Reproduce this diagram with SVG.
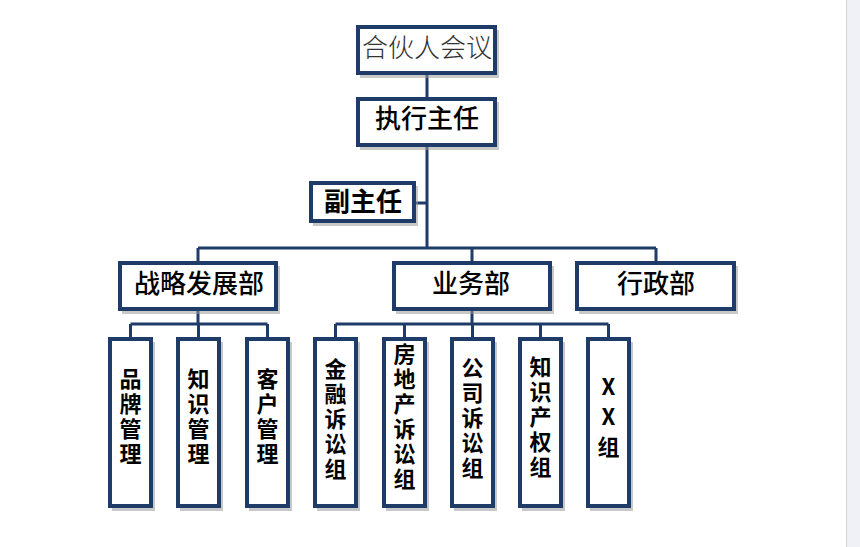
<svg xmlns="http://www.w3.org/2000/svg" width="860" height="547" viewBox="0 0 860 547">
<style>
.box{fill:#ffffff;stroke:#1f3b68;stroke-width:4}
.sh{fill:#9a9a9a;opacity:0.55}
.ln{stroke:#1f3b68;stroke-width:3;fill:none}
.t{font-family:"Noto Sans CJK SC","Liberation Sans",sans-serif;font-size:26px;text-anchor:middle;fill:#000}
.v{font-family:"Noto Sans CJK SC","Liberation Sans",sans-serif;font-size:22px;font-weight:bold;text-anchor:middle;fill:#000;writing-mode:vertical-rl;text-orientation:upright;letter-spacing:3px}
</style>
<rect x="0" y="0" width="860" height="547" fill="#ffffff"/>
<rect x="846" y="0" width="14" height="547" fill="#eff1f6"/>
<line x1="846.5" y1="0" x2="846.5" y2="547" stroke="#d2d4d8" stroke-width="1"/>
<g id="connectors">
<path class="ln" d="M427,75V97M427,147V248M416,203H427M198,248H656M198,248V261M472,248V261M656,248V261"/>
<path class="ln" d="M198,311V324M130.5,324H267.5M130.5,324V337M198.5,324V337M267.5,324V337"/>
<path class="ln" d="M472,311V324M335.5,324H608.5M335.5,324V337M404.5,324V337M472.5,324V337M540.5,324V337M608.5,324V337"/>
</g>
<g id="n-partners"><rect class="sh" x="360" y="30" width="139" height="48"/><rect class="box" x="358" y="27" width="137" height="46"/><text class="t" x="427" y="57" style="fill:#333;font-weight:300">合伙人会议</text></g>
<g id="n-exec"><rect class="sh" x="360" y="102" width="139" height="48"/><rect class="box" x="358" y="99" width="137" height="46"/><text class="t" x="427" y="128" style="font-weight:500">执行主任</text></g>
<g id="n-deputy"><rect class="sh" x="313" y="186" width="105" height="40"/><rect class="box" x="311" y="183" width="103" height="38"/><text class="t" x="363" y="211" style="font-weight:bold">副主任</text></g>
<g id="n-strategy"><rect class="sh" x="122" y="266" width="158" height="48"/><rect class="box" x="120" y="263" width="156" height="46"/><text class="t" x="199" y="293" style="font-weight:500">战略发展部</text></g>
<g id="n-business"><rect class="sh" x="396" y="266" width="158" height="48"/><rect class="box" x="394" y="263" width="156" height="46"/><text class="t" x="471" y="293" style="font-weight:500">业务部</text></g>
<g id="n-admin"><rect class="sh" x="579" y="266" width="159" height="48"/><rect class="box" x="577" y="263" width="157" height="46"/><text class="t" x="656" y="293" style="font-weight:500">行政部</text></g>
<g id="n-brand"><rect class="sh" x="112" y="342" width="43" height="169"/><rect class="box" x="110" y="339" width="41" height="167"/><text class="v" x="130.5" y="418">品牌管理</text></g>
<g id="n-knowledge"><rect class="sh" x="180" y="342" width="43" height="169"/><rect class="box" x="178" y="339" width="41" height="167"/><text class="v" x="198.5" y="418">知识管理</text></g>
<g id="n-client"><rect class="sh" x="249" y="342" width="43" height="169"/><rect class="box" x="247" y="339" width="41" height="167"/><text class="v" x="267.5" y="418">客户管理</text></g>
<g id="n-finance"><rect class="sh" x="317" y="342" width="43" height="169"/><rect class="box" x="315" y="339" width="41" height="167"/><text class="v" x="335.5" y="420">金融诉讼组</text></g>
<g id="n-realestate"><rect class="sh" x="386" y="342" width="43" height="169"/><rect class="box" x="384" y="339" width="41" height="167"/><text class="v" x="404.5" y="418">房地产诉讼组</text></g>
<g id="n-corporate"><rect class="sh" x="454" y="342" width="43" height="169"/><rect class="box" x="452" y="339" width="41" height="167"/><text class="v" x="472.5" y="419">公司诉讼组</text></g>
<g id="n-ip"><rect class="sh" x="522" y="342" width="43" height="169"/><rect class="box" x="520" y="339" width="41" height="167"/><text class="v" x="540.5" y="418">知识产权组</text></g>
<g id="n-xx"><rect class="sh" x="590" y="342" width="43" height="169"/><rect class="box" x="588" y="339" width="41" height="167"/><text class="v" x="608.5" y="421" style="letter-spacing:8px">XX组</text></g>
</svg>
